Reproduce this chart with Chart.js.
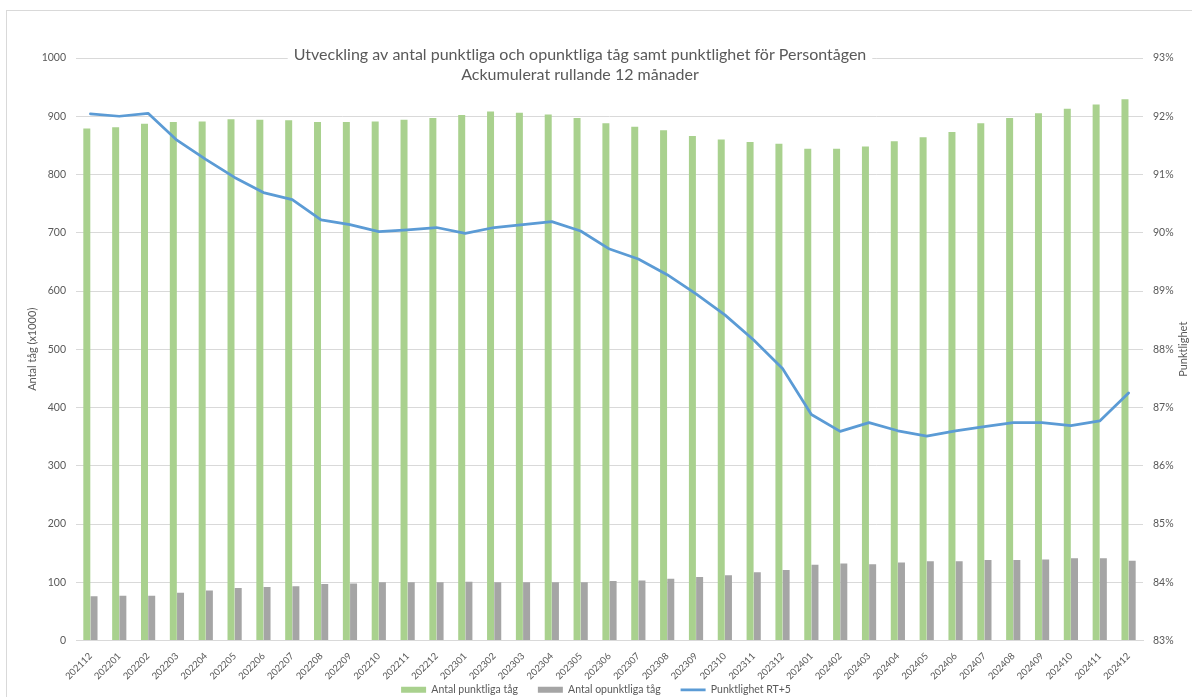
<!DOCTYPE html>
<html lang="sv">
<head>
<meta charset="utf-8">
<title>Punktlighet Persontågen</title>
<script src="https://cdn.jsdelivr.net/npm/chart.js@4/dist/chart.umd.min.js"></script>
<style>
    html, body { margin: 0; padding: 0; background: #fff; }
    #ram {
        position: absolute; left: 6px; top: 10px;
        width: 1200px; height: 700px;
        border: 1px solid #d9d9d9; box-sizing: border-box;
    }
    #wrap { position: absolute; left: 0; top: 0; width: 1192px; height: 697px; }
</style>
</head>
<body>
<div id="ram"></div>
<div id="wrap"><canvas id="diagram"></canvas></div>
<script>
// --- Data (tusental tåg, rullande 12 månader) ---
const manader = ['202112', '202201', '202202', '202203', '202204', '202205', '202206', '202207', '202208', '202209',
    '202210', '202211', '202212', '202301', '202302', '202303', '202304', '202305', '202306', '202307',
    '202308', '202309', '202310', '202311', '202312', '202401', '202402', '202403', '202404', '202405',
    '202406', '202407', '202408', '202409', '202410', '202411', '202412'];

const punktliga = [879, 881, 887, 890, 891, 895, 894, 893, 890, 890, 891, 894, 897, 902, 908, 906, 903, 897, 888, 882,
    876, 866, 860, 856, 853, 844, 844, 848, 857, 864, 873, 888, 897, 905, 913, 920, 929];

const opunktliga = [76, 77, 77, 82, 86, 90, 92, 93, 97, 98, 100, 100, 100, 101, 100, 100, 100, 100, 102, 103,
    106, 109, 112, 117, 121, 130, 132, 131, 134, 136, 136, 138, 138, 139, 141, 141, 137];

const punktlighet = [92.04, 92.00, 92.05, 91.59, 91.26, 90.95, 90.69, 90.57, 90.22, 90.14, 90.02, 90.05, 90.09, 89.99,
    90.09, 90.14, 90.19, 90.03, 89.72, 89.55, 89.28, 88.95, 88.59, 88.16, 87.67, 86.88, 86.59, 86.74,
    86.60, 86.51, 86.60, 86.67, 86.74, 86.74, 86.69, 86.77, 87.25];

const rubrik = ['Utveckling av antal punktliga och opunktliga tåg samt punktlighet för Persontågen',
    'Ackumulerat rullande 12 månader'];

const textFarg = '#595959';
const rutnat = '#d9d9d9';
const typsnitt = 'Lato, "Open Sans", sans-serif';

// Rubrik med vit bakgrund ovanpå rutnätet, samt högeraxelns titel (läses nedifrån och upp)
const rubrikPlugin = {
    id: 'rubrik',
    afterUpdate(chart) {
        // flytta upp förklaringen så att den ligger tätt under månadsetiketterna
        chart.legend.top -= 18;
        chart.legend.bottom -= 18;
    },
    beforeDatasetsDraw(chart) {
        const ctx = chart.ctx;
        const mitt = 580;
        ctx.save();
        ctx.font = '16px ' + typsnitt;
        const bredd = Math.max(...rubrik.map(r => ctx.measureText(r).width));
        ctx.fillStyle = '#fff';
        ctx.fillRect(mitt - bredd / 2 - 6, 44, bredd + 12, 42);
        ctx.fillStyle = textFarg;
        ctx.textAlign = 'center';
        ctx.textBaseline = 'middle';
        ctx.fillText(rubrik[0], mitt, 55);
        ctx.fillText(rubrik[1], mitt, 75);

        ctx.font = '11px ' + typsnitt;
        ctx.translate(1183, (chart.chartArea.top + chart.chartArea.bottom) / 2);
        ctx.rotate(-Math.PI / 2);
        ctx.fillText('Punktlighet', 0, 0);
        ctx.restore();
    }
};

const ctx = document.getElementById('diagram').getContext('2d');

new Chart(ctx, {
    type: 'bar',
    data: {
        labels: manader,
        datasets: [{
            label: 'Antal punktliga tåg',
            data: punktliga,
            backgroundColor: '#a9d18e',
            yAxisID: 'y',
            order: 1
        }, {
            label: 'Antal opunktliga tåg',
            data: opunktliga,
            backgroundColor: '#a5a5a5',
            yAxisID: 'y',
            order: 1
        }, {
            type: 'line',
            label: 'Punktlighet RT+5',
            data: punktlighet,
            borderColor: '#5b9bd5',
            backgroundColor: '#5b9bd5',
            borderWidth: 2.75,
            pointRadius: 0,
            tension: 0,
            borderJoinStyle: 'round',
            borderCapStyle: 'round',
            yAxisID: 'y1',
            order: 0
        }]
    },
    options: {
        responsive: true,
        maintainAspectRatio: false,
        animation: false,
        datasets: {
            bar: { categoryPercentage: 0.5, barPercentage: 0.97 }
        },
        layout: { padding: { top: 58, left: 0, right: 0, bottom: -26 } },
        scales: {
            x: {
                grid: { display: false },
                border: { color: rutnat },
                ticks: {
                    color: textFarg,
                    font: { family: typsnitt, size: 9.5 },
                    autoSkip: false,
                    maxRotation: 45,
                    minRotation: 45,
                    padding: 2
                },
                afterFit(scale) { scale.height = 42; }
            },
            y: {
                position: 'left',
                min: 0,
                max: 1000,
                ticks: {
                    stepSize: 100,
                    color: textFarg,
                    font: { family: typsnitt, size: 10.5 },
                    padding: 10,
                    callback: v => String(v)
                },
                grid: { color: rutnat, drawTicks: false },
                border: { display: false },
                title: {
                    display: true,
                    text: 'Antal tåg (x1000)',
                    color: textFarg,
                    font: { family: typsnitt, size: 11 },
                    padding: { top: 26, bottom: 0 }
                },
                afterFit(scale) { scale.width = 76; }
            },
            y1: {
                position: 'right',
                min: 83,
                max: 93,
                ticks: {
                    stepSize: 1,
                    color: textFarg,
                    font: { family: typsnitt, size: 10.5 },
                    padding: 10,
                    callback: v => v + '%'
                },
                grid: { display: false, drawTicks: false },
                border: { display: false },
                afterFit(scale) { scale.width = 49; }
            }
        },
        plugins: {
            legend: {
                position: 'bottom',
                labels: {
                    color: textFarg,
                    font: { family: typsnitt, size: 10.5 },
                    usePointStyle: true,
                    pointStyleWidth: 25,
                    boxHeight: 6,
                    padding: 20,
                    sort: (a, b) => a.datasetIndex - b.datasetIndex,
                    generateLabels(chart) {
                        const items = Chart.defaults.plugins.legend.labels.generateLabels(chart);
                        items.forEach(item => {
                            item.pointStyle = item.datasetIndex === 2 ? 'line' : 'rect';
                            if (item.datasetIndex !== 2) item.lineWidth = 0;
                        });
                        return items;
                    }
                }
            },
            tooltip: { enabled: false }
        }
    },
    plugins: [rubrikPlugin]
});
</script>
</body>
</html>
